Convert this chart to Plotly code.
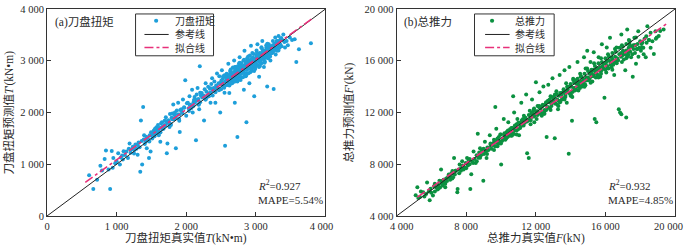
import plotly.graph_objects as go

# ---------------- Panel (a): cutter-head torque ----------------
torque_true = [
    605, 665, 720, 767, 790, 828, 847, 884, 907, 930,
    944, 953, 980, 1000, 1023, 1047, 1060, 1079, 1090, 1100,
    1120, 1140, 1163, 1175, 1186, 1200, 1215, 1233, 1250, 1256,
    1270, 1285, 1302, 1302, 1315, 1330, 1340, 1349, 1360, 1367,
    1381, 1390, 1395, 1405, 1419, 1425, 1433, 1445, 1465, 1475,
    1488, 1495, 1512, 1520, 1535, 1545, 1560, 1572, 1585, 1595,
    1605, 1615, 1628, 1640, 1651, 1660, 1674, 1690, 1707, 1715,
    1721, 1730, 1745, 1755, 1767, 1777, 1790, 1800, 1814, 1830,
    1837, 1851, 1865, 1884, 1898, 1907, 1915, 1930, 1945, 1953,
    1970, 1986, 2000, 2010, 2023, 2035, 2047, 2060, 2084, 2093,
    2105, 2120, 2130, 2140, 2150, 2163, 2175, 2186, 2200, 2223,
    2195, 2240, 2256, 2265, 2279, 2290, 2305, 2315, 2326, 2340,
    2349, 2360, 2372, 2385, 2395, 2405, 2419, 2430, 2442, 2465,
    2475, 2488, 2500, 2512, 2525, 2535, 2550, 2558, 2567, 2585,
    2605, 2610, 2619, 2630, 2642, 2650, 2660, 2670, 2688, 2698,
    2705, 2712, 2721, 2730, 2735, 2745, 2755, 2767, 2781, 2790,
    2800, 2810, 2820, 2828, 2837, 2845, 2860, 2865, 2875, 2884,
    2895, 2907, 2915, 2930, 2940, 2950, 2960, 2967, 2977, 2985,
    3000, 3010, 3023, 3035, 3047, 3055, 3070, 3080, 3093, 3100,
    3116, 3125, 3140, 3150, 3163, 3175, 3186, 3195, 3209, 3220,
    3235, 3256, 3265, 3279, 3290, 3302, 3315, 3326, 3349, 3370,
    3395, 3419, 3442, 3460, 3488, 3520, 3558, 3581, 3619, 3791,
    2480, 2495, 2505, 2520, 2530, 2545, 2560, 2575, 2590, 2595,
    2600, 2615, 2625, 2635, 2645, 2655, 2665, 2680, 2690, 2695,
    2700, 2710, 2715, 2725, 2740, 2750, 2760, 2770, 2775, 2785,
    2795, 2805, 2815, 2825, 2835, 2840, 2850, 2855, 2870, 2880,
    2890, 2900, 2910, 2920, 2925, 2935, 2945, 2955, 2965, 2975,
    2980, 2990, 2995, 3005, 3015, 3025, 3030, 3040, 3050, 3060,
    3065, 3075, 3085, 3090, 3105, 3110, 3120, 3130, 3135, 3145,
    3155, 3160, 3170, 3180, 3190, 3200, 3205, 3215, 3225, 3240,
    3245, 3250, 3260, 3270, 3285, 3295, 3310, 3320, 3335, 3355,
    2050, 2100, 2150, 2200, 2250, 2300, 2350, 2400, 2450, 2500,
    2070, 2125, 2180, 2230, 2275, 2330, 2380, 2420, 2470, 2515,
    1450, 1500, 1550, 1600, 1650, 1700, 1750, 1800, 1850, 1900,
    1470, 1530, 1580, 1630, 1680, 1730, 1780, 1820, 1880, 1940,
    2550, 2620, 2680, 2740, 2790, 2860, 2920, 2990, 3060, 3130,
    2580, 2640, 2700, 2760, 2830, 2890, 2950, 3010, 3080, 3150,
    2620, 2660, 2700, 2740, 2780, 2820, 2860, 2900, 2940, 2980,
    3020, 3060, 3100, 3140, 3180, 3220, 3260, 3300, 3340, 3380,
    2640, 2690, 2735, 2775, 2815, 2855, 2895, 2935, 2975, 3015,
    3045, 3085, 3125, 3165, 3205, 3245, 3285, 3325, 3365, 3410,
    1550, 1620, 1690, 1760, 1830, 1900, 1970, 2040, 2110, 2180,
    2210, 2280, 2350, 2420, 2490, 2560, 2630, 2700, 2770, 2840,
]
torque_pred = [
    786, 522, 700, 969, 880, 1101, 1264, 899, 522, 1258,
    931, 1119, 1020, 1057, 1214, 994, 1130, 1170, 1090, 1250,
    1180, 1245, 1119, 1300, 1403, 1220, 1290, 1340, 1210, 1277,
    1380, 1300, 1371, 1182, 1420, 1330, 855, 1843, 1450, 994,
    2107, 1480, 1560, 1390, 1434, 1530, 1308, 1470, 1119, 1560,
    1245, 1620, 1497, 1600, 1654, 1540, 1690, 1717, 1640, 1760,
    1560, 1700, 1434, 1790, 1811, 1680, 1686, 1760, 1906, 1830,
    1214, 1403, 1850, 1780, 1969, 1780, 1900, 1980, 2157, 1870,
    2000, 1308, 2040, 2189, 1874, 1623, 2050, 2063, 1990, 2252,
    2100, 2623, 1937, 2180, 2189, 2080, 2314, 2150, 2440, 2000,
    2200, 2300, 2252, 1465, 2350, 2472, 2260, 2063, 2380, 2377,
    2893, 2300, 1843, 2450, 2566, 2400, 2330, 2500, 2314, 2460,
    2189, 2550, 2660, 2420, 2472, 2600, 2189, 2520, 2755, 2566,
    2700, 2000, 2580, 2818, 2650, 2503, 2720, 1358, 2692, 2600,
    2943, 2700, 2377, 2800, 2786, 2620, 2566, 2870, 3006, 2189,
    2760, 2880, 2818, 2650, 1528, 2900, 2700, 3069, 2629, 2950,
    2881, 2780, 3000, 2440, 3195, 2850, 2755, 1811, 3050, 3006,
    2900, 2566, 3100, 3289, 2849, 2980, 3050, 3132, 2314, 2890,
    2943, 3100, 3321, 3000, 2692, 3150, 3069, 2950, 3384, 3200,
    2881, 3100, 3195, 3250, 2503, 3050, 3321, 3150, 3006, 3280,
    3150, 2453, 3300, 3447, 3220, 3195, 3350, 3478, 3321, 3280,
    3509, 3258, 3384, 3300, 3447, 3400, 3415, 2975, 3220, 3340,
    2560, 2450, 2620, 2540, 2700, 2480, 2600, 2650, 2530, 2700,
    2600, 2680, 2550, 2720, 2640, 2760, 2690, 2600, 2780, 2700,
    2650, 2800, 2720, 2760, 2840, 2680, 2800, 2730, 2900, 2820,
    2760, 2850, 2900, 2800, 2760, 2920, 2880, 2700, 2820, 2950,
    2850, 2980, 2880, 2940, 3020, 2800, 2920, 3060, 2880, 3000,
    2950, 3050, 2880, 2990, 3060, 2920, 3120, 3000, 3080, 2960,
    3100, 3020, 3150, 3050, 3080, 3160, 3000, 3120, 3200, 3080,
    3180, 3100, 3230, 3150, 3250, 3120, 3200, 3260, 3170, 3240,
    3300, 3180, 3250, 3330, 3280, 3350, 3260, 3380, 3300, 3420,
    2150, 2120, 2230, 2200, 2330, 2300, 2380, 2420, 2480, 2450,
    2080, 2190, 2160, 2290, 2250, 2370, 2330, 2470, 2430, 2590,
    1500, 1560, 1590, 1660, 1720, 1750, 1810, 1870, 1900, 1960,
    1440, 1580, 1620, 1620, 1740, 1800, 1760, 1880, 1960, 2010,
    2380, 2520, 2600, 2620, 2680, 2720, 2780, 2840, 2900, 2980,
    2750, 2830, 2880, 2950, 3020, 3080, 3150, 3200, 3260, 3300,
    2720, 2640, 2820, 2700, 2900, 2780, 2960, 2850, 3040, 2920,
    3080, 2990, 3180, 3060, 3280, 3150, 3230, 3380, 3250, 3400,
    2560, 2760, 2600, 2850, 2680, 2980, 2760, 2990, 2800, 3150,
    2880, 3240, 2960, 3330, 3080, 3380, 3120, 3200, 3440, 3360,
    1680, 1610, 1840, 1720, 1950, 1840, 2090, 2030, 2240, 2150,
    2330, 2250, 2470, 2390, 2560, 2520, 2750, 2600, 2960, 2700,
]
torque_ref_x = [0, 4000]
torque_fit_x = [550, 3805]
torque_fit_y = [648, 3811]
torque_ticks = [0, 1000, 2000, 3000, 4000]
torque_ticktext = ["0", "1 000", "2 000", "3 000", "4 000"]

# ---------------- Panel (b): total thrust ----------------
thrust_true = [
    5100, 5195, 5250, 5344, 5400, 5531, 5600, 5700, 5755, 5850,
    5904, 5950, 6000, 6091, 6150, 6200, 6278, 6350, 6400, 6464,
    6500, 6558, 6600, 6650, 6700, 6750, 6800, 6850, 6900, 6950,
    7000, 7024, 7080, 7150, 7211, 7250, 7305, 7350, 7400, 7491,
    7510, 7560, 7622, 7700, 7771, 7800, 7850, 7921, 7980, 8051,
    8100, 8150, 8238, 8294, 8350, 8425, 8480, 8550, 8611, 8667,
    8700, 8750, 8798, 8850, 8900, 8985, 9020, 9078, 9120, 9171,
    9220, 9280, 9358, 9400, 9450, 9545, 9600, 9650, 9675, 9731,
    9780, 9830, 9880, 9918, 9960, 10011, 10060, 10110, 10160, 10200,
    10250, 10291, 10330, 10380, 10421, 10470, 10520, 10571, 10620, 10660,
    10701, 10757, 10800, 10850, 10900, 10944, 10990, 11038, 11080, 11120,
    11168, 11220, 11270, 11318, 11370, 11410, 11448, 11504, 11550, 11598,
    11654, 11700, 11750, 11785, 11830, 11870, 11915, 11960, 12009, 12060,
    12103, 12150, 12214, 12260, 12300, 12345, 12390, 12438, 12500, 12550,
    12588, 12625, 12680, 12719, 12770, 12810, 12849, 12900, 12961, 13000,
    13050, 13091, 13140, 13185, 13230, 13278, 13330, 13372, 13420, 13470,
    13521, 13570, 13610, 13651, 13700, 13745, 13782, 13830, 13894, 13931,
    13980, 14030, 14080, 14120, 14155, 14200, 14250, 14305, 14350, 14398,
    14450, 14500, 14540, 14584, 14630, 14677, 14720, 14771, 14820, 14864,
    14910, 14957, 15000, 15051, 15100, 15144, 15190, 15238, 15290, 15331,
    15387, 15430, 15480, 15530, 15570, 15611, 15660, 15704, 15750, 15798,
    15840, 15891, 15947, 16000, 16040, 16078, 16120, 16171, 16220, 16265,
    16310, 16358, 16400, 16450, 16507, 16560, 16600, 16638, 16680, 16731,
    16769, 16843, 16918, 17198, 16918, 16970, 17011, 17060, 17100, 17142,
    17200, 17254, 17300, 17340, 17385, 17430, 17478, 17520, 17572, 17620,
    17665, 17710, 17758, 17800, 17850, 17889, 17950, 18000, 18039, 18080,
    18132, 18180, 18250, 18319, 18370, 18412, 18500, 18599, 18700, 18785,
    18879, 18950, 19065, 19150, 19346, 18600, 18350, 18200, 17900, 17700,
    9500, 9700, 9900, 10100, 10300, 10500, 10700, 10900, 11100, 11300,
    11500, 11700, 11900, 12100, 12300, 12500, 12700, 12900, 13100, 13300,
    13500, 13700, 13900, 14100, 14300, 14500, 14700, 14900, 15100, 15300,
    15500, 15700, 15900, 16100, 16300, 16500, 16700, 16900, 17100, 17300,
    9600, 9800, 10000, 10200, 10400, 10600, 10800, 11000, 11200, 11400,
    11600, 11800, 12000, 12200, 12400, 12600, 12800, 13000, 13200, 13400,
    13600, 13800, 14000, 14200, 14400, 14600, 14800, 15000, 15200, 15400,
    15600, 15800, 16000, 16200, 16400, 16600, 16800, 17000, 17200, 17400,
    12050, 12450, 12850, 13250, 13650, 14050, 14450, 14850, 15250, 15650,
    14150, 14550, 14950, 15350, 15750, 16150, 16550, 16950, 17350, 17750,
    6200, 6600, 7000, 7400, 7800, 8200, 8600, 9000, 9400, 9800,
    6400, 6800, 7200, 7600, 8000, 8400, 8800, 9200, 9600, 10000,
    15150, 15450, 15750, 16050, 16350, 16650, 16950, 17250, 17550, 17850,
    12200, 12600, 13000, 13400, 13800, 14200, 14600, 15000, 15400, 15800,
    14000, 14400, 14800, 15200, 15600, 16000, 16400, 16800, 17200, 17600,
    10500, 10900, 11300, 11700, 12100, 12500, 12900, 13300, 13700, 14100,
    15300, 15700, 16100, 16500, 16900, 17300, 17700, 18100, 18500, 18900,
    7200, 7700, 8200, 8700, 9200, 9700, 10200, 10700, 11200, 11700,
    11900, 12300, 12700, 13100, 13500, 13900, 14300, 14700, 15100, 15500,
]
thrust_pred = [
    5600, 6214, 5400, 5459, 5900, 5837, 5500, 5700, 6591, 5900,
    5208, 6100, 5800, 5585, 6300, 5900, 6214, 6050, 6400, 6717,
    6200, 7598, 6500, 6350, 6800, 6600, 6214, 6900, 6700, 7000,
    7200, 6969, 6800, 7300, 7472, 7000, 8478, 7200, 7500, 5837,
    6088, 7600, 7975, 7500, 8226, 7800, 7600, 7723, 8100, 8478,
    7900, 8300, 6088, 7220, 8200, 8981, 8400, 8100, 8226, 10365,
    8600, 8900, 9233, 8700, 9100, 6717, 8800, 9736, 9000, 8478,
    9300, 9100, 10239, 9500, 9200, 9484, 9700, 9400, 12428, 10742,
    9900, 9600, 10100, 9736, 10300, 7975, 9800, 10000, 11497, 10200,
    9900, 10239, 10500, 10100, 11245, 10300, 10700, 10490, 10200, 10800,
    13258, 12000, 10600, 10900, 11100, 11497, 10700, 10239, 11200, 10900,
    12755, 11100, 11500, 11748, 11200, 11600, 13384, 8855, 11400, 8478,
    12126, 11500, 11900, 13006, 11700, 12200, 11245, 11800, 14340, 12000,
    12503, 11900, 13560, 12300, 11900, 11748, 12500, 14013, 12200, 12600,
    12755, 10113, 12400, 14138, 12800, 12300, 13258, 12700, 14642, 12900,
    13200, 10013, 12700, 13635, 13000, 12252, 13300, 14893, 12900, 13400,
    13509, 13100, 13700, 15270, 13300, 14264, 12755, 13800, 8805, 15522,
    13500, 14000, 11371, 13600, 14516, 13900, 13700, 13761, 14200, 15899,
    14000, 14300, 13900, 14767, 14400, 14013, 14600, 16276, 14200, 15396,
    14700, 16780, 14500, 14516, 15000, 15899, 14800, 15270, 14900, 16654,
    11497, 15000, 11245, 15300, 14900, 16276, 15400, 14767, 15200, 17283,
    15600, 15774, 13132, 15300, 15900, 17031, 15500, 15396, 16000, 17786,
    15800, 16276, 16100, 15700, 14893, 16300, 15900, 17031, 16200, 16025,
    12252, 12000, 11874, 11623, 18038, 16400, 16780, 16100, 16600, 15270,
    16800, 18415, 16500, 17000, 17283, 16700, 16276, 17100, 14767, 16900,
    17786, 17200, 15774, 16900, 17300, 18289, 17000, 17500, 16780, 17300,
    17409, 17000, 17700, 16276, 17400, 18667, 17600, 18164, 17500, 16528,
    18289, 17800, 17912, 18300, 18415, 17000, 17900, 16500, 16300, 16600,
    9500, 9700, 9600, 9900, 10000, 10200, 10300, 10600, 10800, 11000,
    11300, 11400, 11700, 11800, 12000, 12100, 12400, 12500, 12700, 12900,
    13000, 13200, 13500, 13600, 13900, 14100, 14200, 14500, 14600, 14800,
    15000, 15200, 15400, 15600, 15700, 16000, 16100, 16300, 16500, 16700,
    9900, 10000, 10300, 10400, 10600, 10800, 11000, 11200, 11400, 11500,
    11800, 12000, 12100, 12400, 12600, 12800, 13000, 13200, 13400, 13500,
    13800, 14000, 14200, 14300, 14600, 14800, 15000, 15200, 15300, 15600,
    15800, 15900, 16200, 16300, 16600, 16700, 17000, 17100, 17300, 17500,
    11500, 11900, 12200, 12600, 13000, 13300, 13700, 14100, 14400, 14800,
    14600, 15000, 15400, 15800, 16200, 16500, 16900, 17200, 17600, 17800,
    6500, 6700, 7100, 7500, 7900, 8400, 8700, 9200, 9600, 9400,
    6100, 6500, 6900, 7300, 7700, 8100, 8500, 8800, 9100, 9600,
    14300, 14700, 15000, 15100, 15500, 15800, 15900, 16300, 16500, 16900,
    12500, 12200, 13100, 12800, 13600, 13900, 14400, 14700, 15200, 15300,
    13300, 14400, 14000, 15100, 14700, 15800, 15300, 16500, 16200, 17200,
    10500, 10300, 11200, 11100, 12100, 11900, 12800, 12500, 13500, 13200,
    15300, 15500, 16000, 15900, 16600, 16400, 17200, 17000, 17600, 17700,
    7000, 7700, 8000, 8500, 9100, 9400, 10000, 10400, 11000, 11600,
    12300, 12400, 12900, 13400, 13500, 14000, 14500, 14400, 15100, 15400,
]
thrust_ref_x = [4000, 20000]
thrust_fit_x = [5195, 19533]
thrust_fit_y = [5459, 18868]
thrust_ticks = [4000, 8000, 12000, 16000, 20000]
thrust_ticktext = ["4 000", "8 000", "12 000", "16 000", "20 000"]

FONT = "Liberation Serif, Noto Sans CJK SC, serif"
BLUE = "#1E9FDA"
GREEN = "#0B9140"
PINK = "#E8307A"
TXT = "#2a2a2a"
NB = "\u00a0"

fig = go.Figure()

# panel a
fig.add_trace(go.Scatter(x=torque_true, y=torque_pred, mode="markers", name="刀盘扭矩",
                         marker=dict(color=BLUE, size=4), xaxis="x", yaxis="y"))
fig.add_trace(go.Scatter(x=torque_ref_x, y=torque_ref_x, mode="lines", name="参考线",
                         line=dict(color="#222", width=1), xaxis="x", yaxis="y"))
fig.add_trace(go.Scatter(x=torque_fit_x, y=torque_fit_y, mode="lines", name="拟合线",
                         line=dict(color=PINK, width=1.6, dash="dashdot"), xaxis="x", yaxis="y"))
# panel b
fig.add_trace(go.Scatter(x=thrust_true, y=thrust_pred, mode="markers", name="总推力",
                         marker=dict(color=GREEN, size=4), xaxis="x2", yaxis="y2"))
fig.add_trace(go.Scatter(x=thrust_ref_x, y=thrust_ref_x, mode="lines", name="参考线",
                         line=dict(color="#222", width=1), xaxis="x2", yaxis="y2"))
fig.add_trace(go.Scatter(x=thrust_fit_x, y=thrust_fit_y, mode="lines", name="拟合线",
                         line=dict(color=PINK, width=1.6, dash="dashdot"), xaxis="x2", yaxis="y2"))

axis_common = dict(showline=True, linecolor="#333", linewidth=1, mirror=True,
                   ticks="inside", ticklen=4, tickcolor="#333", showgrid=False, zeroline=False,
                   ticklabeloverflow="allow",
                   tickfont=dict(family=FONT, size=10.5, color=TXT))

# end tick labels nudged inward as in the reference
tx_a = list(torque_ticktext)
tx_a[-1] = tx_a[-1] + NB * 3
tx_b = list(thrust_ticktext)
tx_b[0] = NB * 4 + tx_b[0]
tx_b[-1] = tx_b[-1] + NB * 5

shapes = []
annotations = []


def add_panel_decor(xr, yr, label, r2, mape, marker_color, series_name,
                    box, mk_x, ln, tx_x, stats_x):
    xd, yd = xr + " domain", yr + " domain"
    # legend box
    shapes.append(dict(type="rect", xref=xd, yref=yd, x0=box[0], x1=box[1], y0=box[2], y1=box[3],
                       line=dict(color="#333", width=1), fillcolor="white", layer="above"))
    rows = [0.943, 0.877, 0.814]
    # marker sample
    shapes.append(dict(type="circle", xref=xd, yref=yd,
                       x0=mk_x - 0.0075, x1=mk_x + 0.0075, y0=rows[0] - 0.0095, y1=rows[0] + 0.0095,
                       fillcolor=marker_color, line=dict(width=0), layer="above"))
    shapes.append(dict(type="line", xref=xd, yref=yd, x0=ln[0], x1=ln[1], y0=rows[1], y1=rows[1],
                       line=dict(color="#222", width=1), layer="above"))
    shapes.append(dict(type="line", xref=xd, yref=yd, x0=ln[0], x1=ln[1], y0=rows[2], y1=rows[2],
                       line=dict(color=PINK, width=1.6, dash="dashdot"), layer="above"))
    for txt, yy in zip([series_name, "参考线", "拟合线"], rows):
        annotations.append(dict(xref=xd, yref=yd, x=tx_x, y=yy, xanchor="left", yanchor="middle",
                                text=txt, showarrow=False, font=dict(family=FONT, size=10, color=TXT)))
    annotations.append(dict(xref=xd, yref=yd, x=0.021, y=0.939, xanchor="left", yanchor="middle",
                            text=label, showarrow=False, font=dict(family=FONT, size=11.5, color=TXT)))
    annotations.append(dict(xref=xd, yref=yd, x=stats_x, y=0.148, xanchor="left", yanchor="middle",
                            text="<i>R</i><sup>2</sup>=" + r2, showarrow=False,
                            font=dict(family=FONT, size=11, color=TXT)))
    annotations.append(dict(xref=xd, yref=yd, x=stats_x, y=0.078, xanchor="left", yanchor="middle",
                            text="MAPE=" + mape, showarrow=False,
                            font=dict(family=FONT, size=11, color=TXT)))


def add_axis_titles(xr, yr, xtitle, ytitle, ytitle_x):
    annotations.append(dict(xref=xr + " domain", yref=yr + " domain", x=0.5, y=-0.108,
                            xanchor="center", yanchor="middle", text=xtitle, showarrow=False,
                            font=dict(family=FONT, size=11.5, color=TXT)))
    annotations.append(dict(xref=xr + " domain", yref=yr + " domain", x=ytitle_x, y=0.5,
                            xanchor="center", yanchor="middle", text=ytitle, textangle=-90,
                            showarrow=False, font=dict(family=FONT, size=11.5, color=TXT)))


add_panel_decor("x", "y", "(a)刀盘扭矩", "0.927", "5.54%", BLUE, "刀盘扭矩",
                box=[0.318, 0.598, 0.774, 0.976], mk_x=0.392, ln=[0.350, 0.437], tx_x=0.452,
                stats_x=0.752)
add_panel_decor("x2", "y2", "(b)总推力", "0.932", "4.85%", GREEN, "总推力",
                box=[0.280, 0.566, 0.774, 0.976], mk_x=0.343, ln=[0.318, 0.406], tx_x=0.420,
                stats_x=0.752)
add_axis_titles("x", "y", "刀盘扭矩真实值<i>T</i>(kN•m)", "刀盘扭矩预测值<i>T</i>'(kN•m)", -0.14)
add_axis_titles("x2", "y2", "总推力真实值<i>F</i>(kN)", "总推力预测值<i>F</i>'(kN)", -0.171)

fig.update_layout(
    width=700, height=247,
    margin=dict(l=47, r=8, t=4, b=31),
    paper_bgcolor="white", plot_bgcolor="white",
    font=dict(family=FONT, color=TXT),
    showlegend=False,
    xaxis=dict(domain=[0, 0.4434], range=[0, 4000], tickvals=torque_ticks, ticktext=tx_a,
               anchor="y", **axis_common),
    yaxis=dict(domain=[0, 1], range=[0, 4000], tickvals=torque_ticks, ticktext=torque_ticktext,
               anchor="x", **axis_common),
    xaxis2=dict(domain=[0.5566, 1], range=[4000, 20000], tickvals=thrust_ticks, ticktext=tx_b,
                anchor="y2", **axis_common),
    yaxis2=dict(domain=[0, 1], range=[4000, 20000], tickvals=thrust_ticks, ticktext=thrust_ticktext,
                anchor="x2", **axis_common),
    shapes=shapes,
    annotations=annotations,
)

fig.write_html("out.html", config={"displayModeBar": False},
               post_script="document.body.style.margin='0';")
